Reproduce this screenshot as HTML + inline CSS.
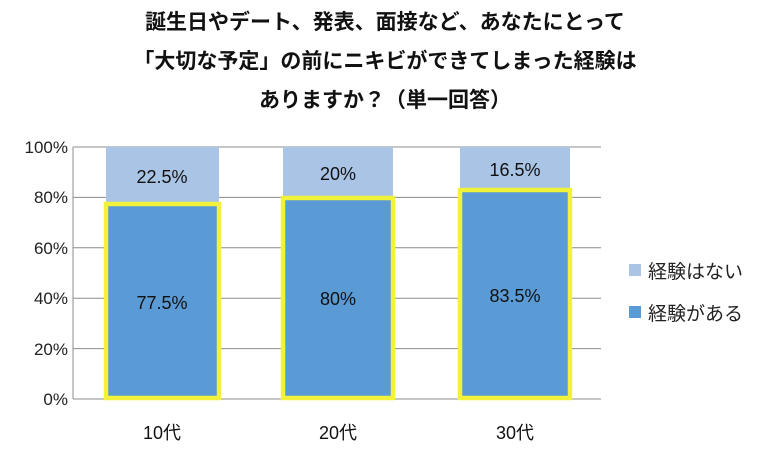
<!DOCTYPE html>
<html><head><meta charset="utf-8"><style>
body{margin:0;background:#fff;}
svg text{font-family:"Liberation Sans","Noto Sans CJK JP",sans-serif;}
</style></head><body>
<svg width="777" height="456" xmlns="http://www.w3.org/2000/svg">
<g font-weight="bold" font-size="21" fill="#111" text-anchor="middle">
<text x="385" y="29">誕生日やデート、発表、面接など、あなたにとって</text>
<text x="385" y="68">「大切な予定」の前にニキビができてしまった経験は</text>
<text x="385" y="107">ありますか？（単一回答）</text>
</g>
<g stroke="#8c8c8c" stroke-width="1">
<line x1="73" y1="147" x2="601" y2="147"/><line x1="73" y1="197.4" x2="601" y2="197.4"/>
<line x1="73" y1="247.8" x2="601" y2="247.8"/><line x1="73" y1="298.2" x2="601" y2="298.2"/>
<line x1="73" y1="348.6" x2="601" y2="348.6"/><line x1="73" y1="399" x2="601" y2="399"/>
<line x1="73" y1="147" x2="73" y2="399"/>
</g>
<g font-size="17" fill="#222" text-anchor="end">
<text x="68" y="153">100%</text><text x="68" y="203">80%</text><text x="68" y="254">60%</text>
<text x="68" y="304">40%</text><text x="68" y="355">20%</text><text x="68" y="405">0%</text>
</g>
<g fill="#a9c4e4">
<rect x="106" y="147" width="113" height="57"/>
<rect x="283" y="147" width="110" height="50"/>
<rect x="460" y="147" width="110" height="42"/>
</g>
<g fill="#5b9bd5" stroke="#f2f23a" stroke-width="4.5">
<rect x="106" y="204" width="113" height="194"/>
<rect x="283" y="198" width="110" height="200"/>
<rect x="460" y="190" width="110" height="208"/>
</g>
<g font-size="18" fill="#111" text-anchor="middle">
<text x="162" y="183">22.5%</text><text x="338" y="180">20%</text><text x="515" y="176">16.5%</text>
<text x="162" y="309">77.5%</text><text x="338" y="305">80%</text><text x="515" y="302">83.5%</text>
<text x="162" y="439">10代</text><text x="338" y="439">20代</text><text x="515" y="439">30代</text>
</g>
<rect x="629" y="264" width="12" height="12" fill="#a9c4e4"/>
<rect x="629" y="306" width="12" height="12" fill="#5b9bd5"/>
<g font-size="19" fill="#222">
<text x="648" y="278">経験はない</text>
<text x="648" y="320">経験がある</text>
</g>
</svg>
</body></html>
